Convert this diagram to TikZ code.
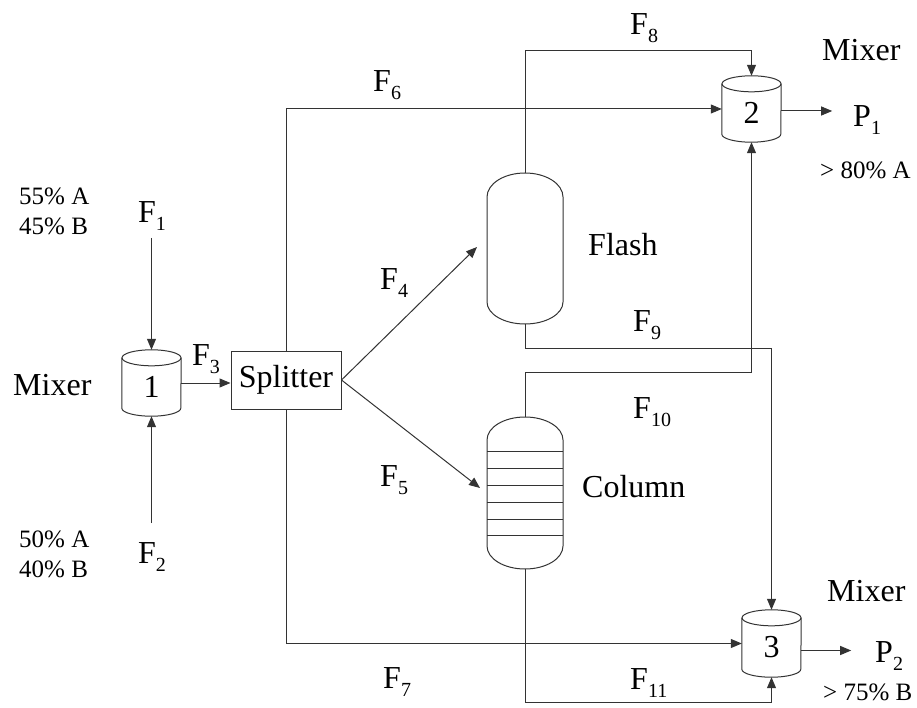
\documentclass[tikz,border=0pt]{standalone}
\usepackage{fontspec}
\setmainfont{Liberation Serif}
\usetikzlibrary{arrows.meta,calc}
\newcommand\Fl[1]{F\raisebox{-8pt}{\fontsize{20}{20}\selectfont #1}}
\newcommand\Pl[1]{P\raisebox{-8pt}{\fontsize{20}{20}\selectfont #1}}
\tikzset{
  ln/.style={line width=1pt, draw=black!80},
  arr/.style={ln, -{Triangle[length=11pt,width=9pt]}},
  big/.style={font=\fontsize{32}{34}\selectfont, inner sep=0pt, anchor=base west},
  small/.style={font=\fontsize{25}{27}\selectfont, inner sep=0pt, anchor=base west},
  holder/.style={inner sep=0pt, minimum width=59pt, minimum height=66pt},
  vessel/.style={inner sep=0pt, minimum width=76pt},
}
\newcommand\drawcyl[1]{%
  \draw[ln, fill=white] ($(#1.north west)+(0,8)$) -- ($(#1.south west)+(0,-8)$)
     arc (180:0:29.5 and 8) -- ($(#1.north east)+(0,8)$);
  \draw[ln] ($(#1.north)+(0,8)$) ellipse (29.5 and 8);
}
\begin{document}
\begin{tikzpicture}[x=1pt,y=-1pt]
\useasboundingbox (0,0) rectangle (917,708);

% mixers (placeholders for geometry)
\node[holder] (m1) at (151.5,383) {};
\node[holder] (m2) at (751.5,109) {};
\node[holder, minimum height=67pt] (m3) at (771.5,643.5) {};
\drawcyl{m1}
\drawcyl{m2}
\drawcyl{m3}
\node[font=\fontsize{32}{34}\selectfont, inner sep=0pt] (m1t) at (151.5,387) {1};
\node[font=\fontsize{32}{34}\selectfont, inner sep=0pt] (m2t) at (751.5,113) {2};
\node[font=\fontsize{32}{34}\selectfont, inner sep=0pt] (m3t) at (771.5,647) {3};

% splitter
\node[ln, draw, inner sep=0pt, minimum width=110pt, minimum height=58pt,
      font=\fontsize{32}{34}\selectfont] (sp) at (286,380) {Splitter};

% flash vessel
\node[vessel, minimum height=151pt] (fl) at (525,248.5) {};
\draw[ln] (487,197) -- (487,302) arc (180:0:38 and 22) -- (563,197) arc (0:-180:38 and 24);

% column
\node[vessel, minimum height=152pt] (col) at (525,493) {};
\draw[ln] (487,440) -- (487,546) arc (180:0:38 and 23) -- (563,440) arc (0:-180:38 and 23);
\foreach \yy in {451,468,485,502,519,535} \draw[ln] (487,\yy) -- (563,\yy);

% inlet streams
\coordinate (f1s) at (151.5,238);
\coordinate (f2s) at (151.5,523);
\draw[arr] (f1s) -- (m1.north);
\draw[arr] (f2s) -- (m1.south);
\draw[arr] (m1.east) -- (m1.east -| sp.west);

% splitter outputs
\coordinate (f4e) at (477,247);
\coordinate (f5e) at (480,488);
\draw[arr] (sp.east) -- (f4e);
\draw[arr] (sp.east) -- (f5e);
\draw[arr] (sp.north) |- (m2.west);
\draw[arr] (sp.south) |- (m3.west);

% flash outputs
\draw[arr] (fl.north) -- ++(0,-122) -| (m2.north);
\draw[arr] (fl.south) -- ++(0,24) -| (m3.north);
% column outputs
\draw[arr] (col.north) -- ++(0,-44) -| (m2.south);
\draw[arr] (col.south) -- ++(0,133) -| (m3.south);

% products
\draw[arr] ($(m2.east)+(0,2)$) -- ++(51,0) coordinate (p1e);
\draw[arr] ($(m3.east)+(0,7)$) -- ++(50,0) coordinate (p2e);

% labels
\node[big] (lmx1) at (13,395) {Mixer};
\node[big] (lmx2) at (822,61) {Mixer};
\node[big] (lmx3) at (827,601) {Mixer};
\node[big] (lfl) at (588,256) {Flash};
\node[big] (lcol) at (582,497) {Column};
\node[big] (lp1) at (853,127) {\Pl{1}};
\node[big] (lp2) at (875,662) {\Pl{2}};
\node[small] (lp1c) at (820,179) {> 80\% A};
\node[small] (lp2c) at (823,700) {> 75\% B};
\node[small] (c1a) at (19,205) {55\% A};
\node[small] (c1b) at (19,235) {45\% B};
\node[small] (c2a) at (19,547) {50\% A};
\node[small] (c2b) at (19,577) {40\% B};

\node[big] (lf1) at (138,223) {\Fl{1}};
\node[big] (lf2) at (138,563) {\Fl{2}};
\node[big] (lf3) at (192,365) {\Fl{3}};
\node[big] (lf4) at (380,290) {\Fl{4}};
\node[big] (lf5) at (380,486) {\Fl{5}};
\node[big] (lf6) at (373,92) {\Fl{6}};
\node[big] (lf7) at (383,688) {\Fl{7}};
\node[big] (lf8) at (630,35) {\Fl{8}};
\node[big] (lf9) at (633,331) {\Fl{9}};
\node[big] (lf10) at (633,418) {\Fl{10}};
\node[big] (lf11) at (630,689) {\Fl{11}};
\end{tikzpicture}
\end{document}
